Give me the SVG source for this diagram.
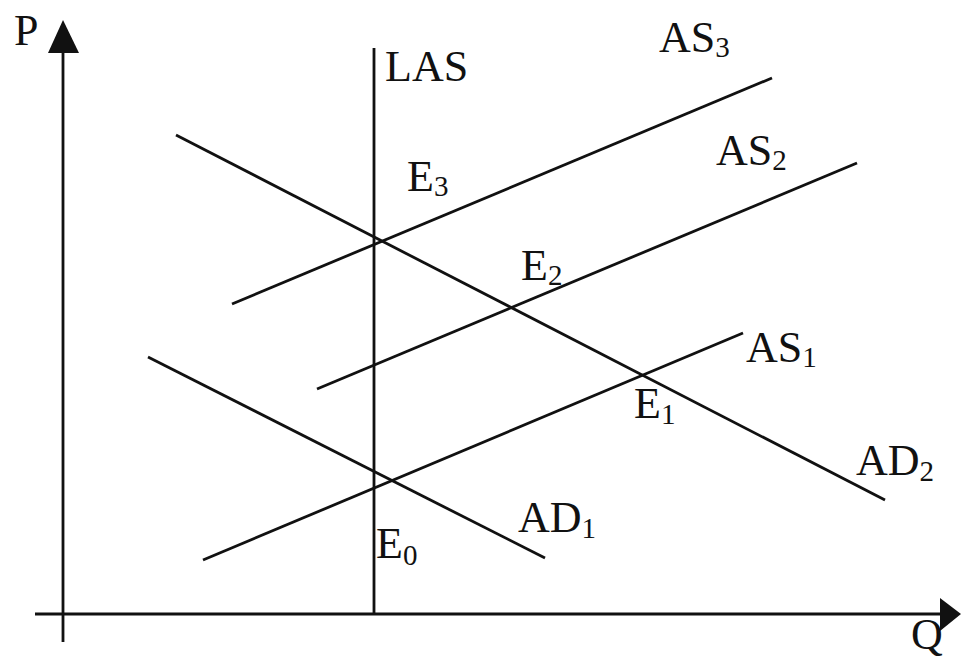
<svg xmlns="http://www.w3.org/2000/svg" width="961" height="660" viewBox="0 0 961 660">
<style>
.ln{stroke:#111;stroke-width:2.8;fill:none;stroke-linecap:butt}
.t{font-family:"Liberation Serif","Times New Roman",serif;font-size:44px;fill:#111}
.s{font-size:29px}
</style>
<rect width="961" height="660" fill="#fff"/>
<g id="axes">
<line class="ln" x1="63" y1="642" x2="63" y2="50"/>
<polygon points="63,20 48,53 79,53" fill="#111"/>
<line class="ln" x1="35" y1="614" x2="942" y2="614"/>
<polygon points="961,614 940,598 940,631" fill="#111"/>
<text class="t" x="14" y="45">P</text>
<text class="t" x="911" y="649">Q</text>
</g>
<g id="connectors">
<line id="LAS-line" class="ln" x1="374" y1="48" x2="374" y2="614"/>
<line id="AS3-line" class="ln" x1="232" y1="304" x2="772" y2="78"/>
<line id="AS2-line" class="ln" x1="317" y1="389" x2="857" y2="163"/>
<line id="AS1-line" class="ln" x1="203" y1="560" x2="743" y2="333"/>
<line id="AD2-line" class="ln" x1="176" y1="135" x2="885" y2="500"/>
<line id="AD1-line" class="ln" x1="148" y1="357" x2="545" y2="558"/>
</g>
<g id="LAS"><text class="t" x="385" y="81">LAS</text></g>
<g id="AS3"><text class="t" x="659" y="52">AS<tspan class="s" dy="5">3</tspan></text></g>
<g id="AS2"><text class="t" x="716" y="165">AS<tspan class="s" dy="5">2</tspan></text></g>
<g id="AS1"><text class="t" x="746" y="362">AS<tspan class="s" dy="5">1</tspan></text></g>
<g id="AD2"><text class="t" x="856" y="475">AD<tspan class="s" dy="6">2</tspan></text></g>
<g id="AD1"><text class="t" x="518" y="532">AD<tspan class="s" dy="6">1</tspan></text></g>
<g id="E3"><text class="t" x="407" y="191">E<tspan class="s" dy="5">3</tspan></text></g>
<g id="E2"><text class="t" x="521" y="280">E<tspan class="s" dy="5">2</tspan></text></g>
<g id="E1"><text class="t" x="634" y="418">E<tspan class="s" dy="6">1</tspan></text></g>
<g id="E0"><text class="t" x="376" y="558">E<tspan class="s" dy="7">0</tspan></text></g>
</svg>
